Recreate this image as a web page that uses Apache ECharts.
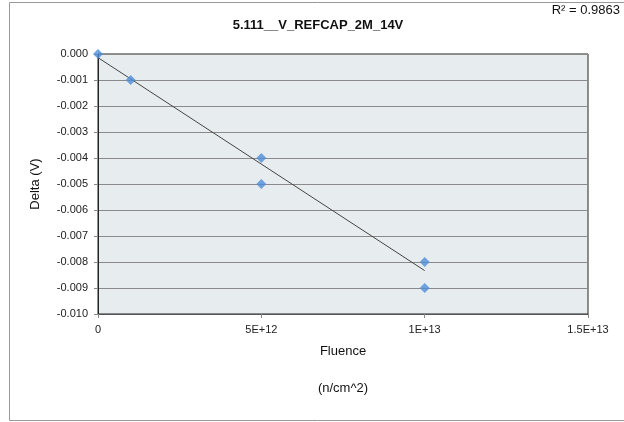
<!DOCTYPE html>
<html><head><meta charset="utf-8">
<script src="https://cdn.jsdelivr.net/npm/echarts@6/dist/echarts.min.js"></script>
<style>html,body{margin:0;padding:0;background:#fff}#c{width:624px;height:422px}</style>
</head><body><div id="c"></div>
<script>
const fluence = [0, 1e12, 5e12, 5e12, 1e13, 1e13];
const delta = [0.000, -0.001, -0.004, -0.005, -0.008, -0.009];
const trendX = [0, 1e13];
const trendY = [-0.00014, -0.00833];
const xTickValues = [0, 5e12, 1e13, 1.5e13];
const xTickLabels = ['0', '5E+12', '1E+13', '1.5E+13'];
const titleText = '5.111__V_REFCAP_2M_14V';
const r2Text = 'R² = 0.9863';

const font = 'Liberation Sans, Arial, sans-serif';
const chart = echarts.init(document.getElementById('c'));
chart.setOption({
  animation: false,
  backgroundColor: '#fff',
  grid: {left: 98, right: 36, top: 54, bottom: 108, show: true, backgroundColor: '#e7ecee', borderColor: '#222', borderWidth: 1},
  xAxis: {
    type: 'value', min: 0, max: 1.5e13, interval: 5e12,
    axisLine: {show: true, onZero: false, lineStyle: {color: '#555'}},
    axisTick: {show: true, length: 4, lineStyle: {color: '#888'}},
    splitLine: {show: false},
    axisLabel: {color: '#222', fontSize: 11, fontFamily: font, margin: 10,
      formatter: v => { const i = xTickValues.indexOf(v); return i >= 0 ? xTickLabels[i] : ''; }}
  },
  yAxis: {
    type: 'value', min: -0.010, max: 0, interval: 0.001,
    axisLine: {show: true, onZero: false, lineStyle: {color: '#222'}},
    axisTick: {show: true, length: 4, lineStyle: {color: '#888'}},
    splitLine: {show: true, lineStyle: {color: '#8a8a8a', width: 1}},
    axisLabel: {color: '#222', fontSize: 11, fontFamily: font, margin: 10,
      formatter: v => v.toFixed(3)}
  },
  series: [
    {type: 'line', data: trendX.map((x, i) => [x, trendY[i]]), symbol: 'none',
     lineStyle: {color: '#444', width: 1}, z: 3},
    {type: 'scatter', data: fluence.map((x, i) => [x, delta[i]]), symbol: 'diamond', symbolSize: 10,
     itemStyle: {color: '#4f8fd8'}, z: 4}
  ],
  graphic: [
    {type: 'rect', shape: {x: 9.5, y: 2.5, width: 640, height: 418}, style: {fill: 'none', stroke: '#999', lineWidth: 1}, z: -10},
    {type: 'text', x: 318, y: 19, style: {text: titleText, font: 'bold 13px ' + font, fill: '#111', textAlign: 'center'}},
    {type: 'text', x: 620, y: 4, style: {text: r2Text, font: '13px ' + font, fill: '#111', textAlign: 'right'}},
    {type: 'text', x: 343, y: 345, style: {text: 'Fluence', font: '13px ' + font, fill: '#111', textAlign: 'center'}},
    {type: 'text', x: 343, y: 382, style: {text: '(n/cm^2)', font: '13px ' + font, fill: '#111', textAlign: 'center'}},
    {type: 'text', x: 35, y: 184, rotation: Math.PI / 2, style: {text: 'Delta (V)', font: '13px ' + font, fill: '#111', textAlign: 'center', textVerticalAlign: 'middle'}}
  ]
});
</script></body></html>
